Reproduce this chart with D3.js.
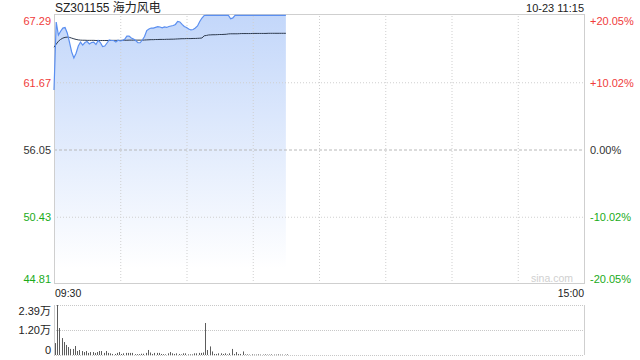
<!DOCTYPE html>
<html>
<head>
<meta charset="utf-8">
<script src="https://cdn.jsdelivr.net/npm/d3@7"></script>
<style>
  body { margin: 0; background: #fff; }
  text { font-family: "Liberation Sans", Arial, "Noto Sans CJK SC", sans-serif; }
  .axis .domain { display: none; }
  .axis line { display: none; }
</style>
</head>
<body>
<div id="vis"></div>
<script>
// chart values
const title = "SZ301155 海力风电";
const stamp = "10-23 11:15";
const priceTicks = [67.29, 61.67, 56.05, 50.43, 44.81];
const pctTicks = ["+20.05%", "+10.02%", "0.00%", "-10.02%", "-20.05%"];
const timeLabels = ["09:30", "15:00"];
const volTicks = [2.39, 1.195, 0];
const volLabels = ["2.39万", "1.20万", "0"];

// one value per minute from 09:30 to 11:15
const price = [
  61.02, 66.70, 65.62, 65.93, 66.20, 66.24, 65.79, 65.03, 64.20, 63.70,
  64.10, 64.70, 65.03, 64.78, 64.99, 65.07, 64.87, 64.99, 65.03, 64.82,
  65.16, 64.99, 64.66, 64.70, 64.95, 65.20, 65.16, 65.16, 65.03, 65.18,
  65.12, 65.16, 65.26, 65.53, 65.53, 65.37, 65.28, 65.16, 64.97, 64.97,
  65.20, 65.49, 65.99, 66.12, 66.20, 66.20, 66.26, 66.31, 66.29, 66.22,
  66.29, 66.25, 66.33, 66.37, 66.41, 66.50, 66.75, 66.71, 66.50, 66.33,
  66.25, 66.12, 66.04, 66.08, 66.20, 66.37, 66.75, 67.04, 67.25, 67.26,
  67.26, 67.26, 67.26, 67.26, 67.26, 67.26, 67.26, 67.26, 67.26, 67.26,
  66.98, 67.05, 67.26, 67.26, 67.26, 67.26, 67.26, 67.26, 67.26, 67.26,
  67.26, 67.26, 67.26, 67.26, 67.26, 67.26, 67.26, 67.26, 67.26, 67.26,
  67.26, 67.26, 67.26, 67.26, 67.26, 67.26
];

const avgPrice = [
  64.60, 64.85, 65.10, 65.25, 65.36, 65.42, 65.44, 65.42, 65.36, 65.30,
  65.25, 65.21, 65.19, 65.18, 65.18, 65.17, 65.17, 65.17, 65.17, 65.16,
  65.16, 65.16, 65.16, 65.16, 65.16, 65.16, 65.17, 65.17, 65.17, 65.17,
  65.17, 65.18, 65.18, 65.18, 65.19, 65.19, 65.19, 65.19, 65.19, 65.19,
  65.19, 65.20, 65.21, 65.22, 65.23, 65.23, 65.24, 65.24, 65.25, 65.25,
  65.25, 65.26, 65.26, 65.27, 65.27, 65.28, 65.29, 65.30, 65.31, 65.31,
  65.32, 65.32, 65.32, 65.33, 65.33, 65.34, 65.35, 65.37, 65.55, 65.58,
  65.62, 65.63, 65.64, 65.64, 65.65, 65.66, 65.66, 65.67, 65.68, 65.71,
  65.72, 65.72, 65.72, 65.72, 65.73, 65.74, 65.74, 65.74, 65.74, 65.74,
  65.75, 65.75, 65.75, 65.75, 65.75, 65.75, 65.75, 65.76, 65.76, 65.76,
  65.76, 65.76, 65.76, 65.76, 65.76, 65.76
];

// volume in 万
const volume = [
  0.57, 2.39, 1.29, 0.81, 0.62, 0.48, 0.38, 0.29, 0.29, 0.43,
  0.19, 0.24, 0.19, 0.14, 0.19, 0.10, 0.14, 0.14, 0.10, 0.14,
  0.19, 0.19, 0.10, 0.19, 0.10, 0.08, 0.05, 0.05, 0.10, 0.14,
  0.05, 0.08, 0.10, 0.10, 0.10, 0.10, 0.04, 0.04, 0.04, 0.06,
  0.06, 0.10, 0.24, 0.12, 0.05, 0.10, 0.10, 0.10, 0.05, 0.04,
  0.03, 0.08, 0.14, 0.08, 0.05, 0.08, 0.05, 0.03, 0.08, 0.08,
  0.03, 0.03, 0.03, 0.08, 0.08, 0.10, 0.10, 0.12, 1.53, 0.24,
  0.41, 0.17, 0.05, 0.05, 0.08, 0.08, 0.05, 0.08, 0.03, 0.08,
  0.29, 0.05, 0.14, 0.05, 0.05, 0.17, 0.03, 0.03, 0.02, 0.03,
  0.02, 0.02, 0.03, 0.02, 0.02, 0.03, 0.02, 0.02, 0.03, 0.02,
  0.02, 0.03, 0.02, 0.02, 0.02, 0.03
];

const width = 640;
const height = 360;
const plotLeft = 54, plotRight = 584;
const plotTop = 15, plotBottom = 284;
const volTop = 305, volBottom = 355;

const red = "#f03b3b";
const green = "#1aab1a";
const gridColor = "#cfcfcf";

const svg = d3.select("#vis").append("svg")
    .attr("width", width)
    .attr("height", height);

const x = d3.scaleLinear().domain([0, 240]).range([plotLeft, plotRight]);
const y = d3.scaleLinear().domain([44.81, 67.29]).range([plotBottom, plotTop]);
const yv = d3.scaleLinear().domain([0, 2.39]).range([volBottom, volTop]);

const defs = svg.append("defs");
const grad = defs.append("linearGradient")
    .attr("id", "fill")
    .attr("gradientUnits", "userSpaceOnUse")
    .attr("x1", 0).attr("y1", plotTop).attr("x2", 0).attr("y2", plotBottom - 15);
grad.append("stop").attr("offset", "0%").attr("stop-color", "#c3d7fa");
grad.append("stop").attr("offset", "100%").attr("stop-color", "#ffffff");

// price area
const area = d3.area()
    .x((d, i) => x(i))
    .y0(plotBottom)
    .y1(d => y(d));

svg.append("path")
    .datum(price)
    .attr("fill", "url(#fill)")
    .attr("d", area);

// grid
const gx = d3.axisBottom(x)
    .tickValues(d3.range(30, 240, 30))
    .tickSize(plotTop - plotBottom)
    .tickFormat("");
svg.append("g")
    .attr("class", "grid")
    .attr("transform", `translate(0,${plotBottom})`)
    .call(gx)
    .call(g => g.select(".domain").remove())
    .selectAll("line")
    .attr("stroke", gridColor)
    .attr("stroke-dasharray", "1,2");

const gy = d3.axisLeft(y)
    .tickValues(priceTicks.slice(1, 4))
    .tickSize(plotLeft - plotRight)
    .tickFormat("");
svg.append("g")
    .attr("class", "grid")
    .attr("transform", `translate(${plotLeft},0)`)
    .call(gy)
    .call(g => g.select(".domain").remove())
    .selectAll("line")
    .attr("stroke", d => d === priceTicks[2] ? "#b8b8b8" : gridColor)
    .attr("stroke-dasharray", d => d === priceTicks[2] ? "3,2" : "1,2");

svg.append("rect")
    .attr("x", plotLeft + 0.5).attr("y", plotTop - 0.5)
    .attr("width", plotRight - plotLeft).attr("height", plotBottom - plotTop)
    .attr("fill", "none")
    .attr("stroke", gridColor);

// avg and price lines
const line = d3.line().x((d, i) => x(i)).y(d => y(d));

svg.append("path")
    .datum(avgPrice)
    .attr("fill", "none")
    .attr("stroke", "#2d3a4e")
    .attr("stroke-width", 1)
    .attr("d", line);

svg.append("path")
    .datum(price)
    .attr("fill", "none")
    .attr("stroke", "#5b8ff0")
    .attr("stroke-width", 1.2)
    .attr("d", line);

// left price axis
const colorAt = i => i < 2 ? red : (i > 2 ? green : "#333");
const dyAt = (i, n) => i === 0 ? "0.9em" : (i === n - 1 ? "-0.15em" : "0.35em");

const yAxis = d3.axisLeft(y).tickValues(priceTicks).tickSize(0).tickPadding(3)
    .tickFormat(d3.format(".2f"));
svg.append("g")
    .attr("class", "axis")
    .attr("transform", `translate(${plotLeft},0)`)
    .call(yAxis)
    .selectAll("text")
    .attr("font-size", 11)
    .attr("font-family", "Liberation Sans, Arial, sans-serif")
    .attr("fill", (d, i) => colorAt(i))
    .attr("dy", (d, i) => dyAt(i, priceTicks.length));

const pAxis = d3.axisRight(y).tickValues(priceTicks).tickSize(0).tickPadding(6)
    .tickFormat((d, i) => pctTicks[i]);
svg.append("g")
    .attr("class", "axis")
    .attr("transform", `translate(${plotRight},0)`)
    .call(pAxis)
    .selectAll("text")
    .attr("font-size", 11)
    .attr("font-family", "Liberation Sans, Arial, sans-serif")
    .attr("fill", (d, i) => colorAt(i))
    .attr("dy", (d, i) => dyAt(i, priceTicks.length));

// watermark
svg.append("text")
    .attr("x", 573).attr("y", 282)
    .attr("text-anchor", "end")
    .attr("font-size", 10.5)
    .attr("fill", "#d0d0d0")
    .text("sina.com");

// title and stamp
svg.append("text")
    .attr("x", 55).attr("y", 12)
    .attr("font-size", 12)
    .attr("fill", "#222")
    .text(title);

svg.append("text")
    .attr("x", plotRight).attr("y", 12)
    .attr("text-anchor", "end")
    .attr("font-size", 11)
    .attr("fill", "#222")
    .text(stamp);

// time labels
svg.append("text")
    .attr("x", plotLeft + 1).attr("y", 297)
    .attr("font-size", 10.5)
    .attr("fill", "#222")
    .text(timeLabels[0]);
svg.append("text")
    .attr("x", plotRight).attr("y", 297)
    .attr("text-anchor", "end")
    .attr("font-size", 10.5)
    .attr("fill", "#222")
    .text(timeLabels[1]);

// volume panel
const vGrid = d3.axisLeft(yv).tickValues(volTicks).tickSize(plotLeft - plotRight).tickFormat("");
svg.append("g")
    .attr("class", "grid")
    .attr("transform", `translate(${plotLeft},0)`)
    .call(vGrid)
    .call(g => g.select(".domain").remove())
    .selectAll("line")
    .attr("stroke", "#c8c8c8")
    .attr("stroke-dasharray", "1,1");

svg.append("line")
    .attr("x1", plotLeft + 0.5).attr("x2", plotLeft + 0.5)
    .attr("y1", volTop).attr("y2", volBottom)
    .attr("stroke", gridColor);
svg.append("line")
    .attr("x1", plotRight + 0.5).attr("x2", plotRight + 0.5)
    .attr("y1", volTop).attr("y2", volBottom)
    .attr("stroke", gridColor);

svg.append("g")
    .selectAll("rect")
    .data(volume)
    .join("rect")
    .attr("x", (d, i) => Math.round(x(i)) + 1)
    .attr("width", 1)
    .attr("y", d => yv(d))
    .attr("height", d => volBottom - yv(d))
    .attr("fill", "#5c5c5c");

const vAxis = d3.axisLeft(yv).tickValues(volTicks).tickSize(0).tickPadding(3)
    .tickFormat((d, i) => volLabels[i]);
svg.append("g")
    .attr("class", "axis")
    .attr("transform", `translate(${plotLeft},0)`)
    .call(vAxis)
    .selectAll("text")
    .attr("font-size", 11)
    .attr("font-family", "Liberation Sans, Arial, 'Noto Sans CJK SC', sans-serif")
    .attr("fill", "#222")
    .attr("dy", (d, i) => dyAt(i, volTicks.length));
</script>
</body>
</html>
